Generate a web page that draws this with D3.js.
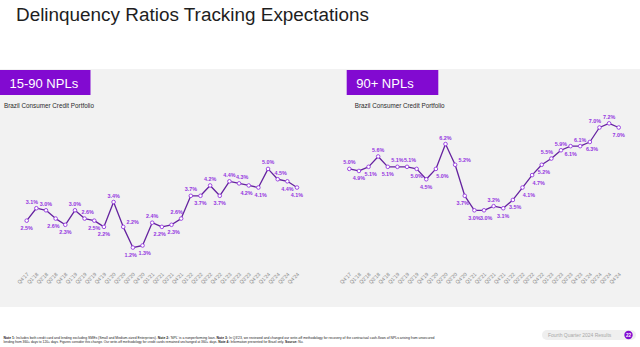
<!DOCTYPE html>
<html>
<head>
<meta charset="utf-8">
<script src="https://cdn.jsdelivr.net/npm/d3@7"></script>
<style>
	body { margin: 0; background: #fff; }
	svg { display: block; font-family: "Liberation Sans", Arial, sans-serif; }
</style>
</head>
<body>
<svg id="slide" width="640" height="347"></svg>
<script>

const QUARTERS = ["Q4'17", "Q1'18", "Q2'18", "Q3'18", "Q4'18", "Q1'19", "Q2'19", "Q3'19", "Q4'19",
	"Q1'20", "Q2'20", "Q3'20", "Q4'20", "Q1'21", "Q2'21", "Q3'21", "Q4'21", "Q1'22", "Q2'22", "Q3'22",
	"Q4'22", "Q1'23", "Q2'23", "Q3'23", "Q4'23", "Q1'24", "Q2'24", "Q3'24", "Q4'24"];

// 15-90 day NPL ratio, %
const NPL_15_90 = [2.5, 3.1, 3.0, 2.6, 2.3, 3.0, 2.6, 2.5, 2.2, 3.4, 2.2, 1.2, 1.3, 2.4, 2.2, 2.3,
	2.6, 3.7, 3.7, 4.2, 3.7, 4.4, 4.3, 4.2, 4.1, 5.0, 4.5, 4.4, 4.1];

// 90+ day NPL ratio, %
const NPL_90 = [5.0, 4.9, 5.1, 5.6, 5.1, 5.1, 5.1, 5.0, 4.5, 5.0, 6.2, 5.2, 3.7, 3.0, 3.0, 3.2,
	3.1, 3.5, 4.1, 4.7, 5.2, 5.5, 5.9, 6.1, 6.1, 6.3, 7.0, 7.2, 7.0];

// where each value label sits relative to its point
const SIDES_15_90 = ['b', 'al', 'a', 'bl', 'b', 'a', 'ar', 'b', 'b', 'a', 'r', 'bl', 'br', 'a', 'bl',
	'br', 'al', 'a', 'b', 'a', 'b', 'a', 'ar', 'bl', 'br', 'a', 'ar', 'b', 'b'];
const SIDES_90 = ['a', 'b', 'br', 'a', 'b', 'a', 'ar', 'b', 'b', 'rb', 'a', 'r', 'bl', 'b', 'br',
	'a', 'b', 'br', 'rb', 'rb', 'br', 'al', 'a', 'b', 'a', 'br', 'al', 'a', 'b'];

const SIDE_OFFSET = {
	a: [0, -6.3], b: [0, 7.6], al: [-4.5, -6.3], ar: [3, -6.5],
	bl: [-2.2, 7.6], br: [2.2, 7.6], r: [9.5, -5], rb: [6.5, 7.5]
};

const PURPLE = '#820ad1';
const LINE = '#65239f';
const LABEL = '#9435e0';

const svg = d3.select('#slide');

// page background and gray card
svg.append('rect').attr('width', 640).attr('height', 347).attr('fill', '#fff');
svg.append('rect').attr('x', 0).attr('y', 69).attr('width', 640).attr('height', 238).attr('fill', '#f2f2f2');

svg.append('text')
	.attr('x', 16).attr('y', 21)
	.attr('font-size', 18)
	.attr('fill', '#1e1e1e')
	.attr('textLength', 353)
	.attr('lengthAdjust', 'spacingAndGlyphs')
	.text('Delinquency Ratios Tracking Expectations');

// shared y scale for both panels
const y = d3.scaleLinear().domain([0, 8]).range([272.4, 106.8]);

function drawPanel(title, boxX, boxW, values, sides, x0, x1) {
	const g = svg.append('g');

	g.append('rect')
		.attr('x', boxX).attr('y', 70)
		.attr('width', boxW).attr('height', 25)
		.attr('fill', PURPLE);
	g.append('text')
		.attr('x', boxX + 9.5).attr('y', 88)
		.attr('font-size', 13)
		.attr('fill', '#fff')
		.text(title);
	g.append('text')
		.attr('x', boxX + 4 + (boxX > 0 ? 4 : 0)).attr('y', 107.5)
		.attr('font-size', 6.3)
		.attr('fill', '#2a2a2a')
		.text('Brazil Consumer Credit Portfolio');

	const x = d3.scalePoint().domain(QUARTERS).range([x0, x1]);
	const data = values.map((v, i) => ({ q: QUARTERS[i], v: v, side: sides[i] }));

	const axis = g.append('g')
		.attr('transform', 'translate(0,274)')
		.call(d3.axisBottom(x).tickSize(0));
	axis.select('.domain').remove();
	axis.selectAll('text')
		.attr('x', 1).attr('y', 0).attr('dy', '0.35em')
		.attr('transform', 'rotate(-45)')
		.attr('text-anchor', 'end')
		.attr('font-size', 5.2)
		.attr('font-family', '"Liberation Sans", Arial, sans-serif')
		.attr('fill', '#8a8a8a');

	g.append('path')
		.datum(data)
		.attr('fill', 'none')
		.attr('stroke', LINE)
		.attr('stroke-width', 1.3)
		.attr('stroke-linejoin', 'round')
		.attr('d', d3.line().x(d => x(d.q)).y(d => y(d.v)));

	g.selectAll('circle')
		.data(data)
		.enter().append('circle')
		.attr('cx', d => x(d.q))
		.attr('cy', d => y(d.v))
		.attr('r', 1.8)
		.attr('fill', '#fff')
		.attr('stroke', LABEL)
		.attr('stroke-width', 0.9);

	g.selectAll('text.val')
		.data(data)
		.enter().append('text')
		.classed('val', true)
		.attr('x', d => x(d.q) + SIDE_OFFSET[d.side][0])
		.attr('y', d => y(d.v) + SIDE_OFFSET[d.side][1])
		.attr('dy', '0.35em')
		.attr('text-anchor', 'middle')
		.attr('font-size', 5.4)
		.attr('font-weight', 'bold')
		.attr('fill', LABEL)
		.text(d => d3.format('.1f')(d.v) + '%');
}

drawPanel('15-90 NPLs', 0, 90.5, NPL_15_90, SIDES_15_90, 26.7, 297);
drawPanel('90+ NPLs', 346.7, 91.6, NPL_90, SIDES_90, 349.3, 618.7);

// footnotes
const notes = [
	[['Note 1: ', true], ['Includes both credit card and lending excluding SMEs (Small and Medium-sized Enterprises). ', false],
		['Note 2: ', true], ["\u2018NPL\u2019 is a nonperforming loan. ", false], ['Note 3: ', true],
		["In Q3'23, we reviewed and changed our write-off methodology for recovery of the contractual cash-flows of NPLs arising from unsecured", false]],
	[['lending from 360+ days to 120+ days. Figures consider this change. Our write-off methodology for credit cards remained unchanged at 360+ days. ', false],
		['Note 4: ', true], ['Information presented for Brazil only. ', false], ['Source: ', true], ['Nu.', false]]
];
const noteWidths = [431, 300];
notes.forEach((line, i) => {
	const t = svg.append('text')
		.attr('x', 3.5).attr('y', 338.5 + i * 4)
		.attr('font-size', 3.2)
		.attr('fill', '#222')
		.attr('textLength', noteWidths[i])
		.attr('lengthAdjust', 'spacingAndGlyphs');
	line.forEach(part => {
		t.append('tspan').attr('font-weight', part[1] ? 'bold' : 'normal').text(part[0]);
	});
});

// footer pill
svg.append('rect')
	.attr('x', 542).attr('y', 330).attr('width', 94).attr('height', 10).attr('rx', 5)
	.attr('fill', '#efefef');
svg.append('text')
	.attr('x', 548).attr('y', 336.8)
	.attr('font-size', 5)
	.attr('fill', '#a8a8a8')
	.text('Fourth Quarter 2024 Results');
svg.append('circle').attr('cx', 628.5).attr('cy', 335).attr('r', 4.2).attr('fill', PURPLE);
svg.append('text')
	.attr('x', 628.5).attr('y', 336.8)
	.attr('text-anchor', 'middle')
	.attr('font-size', 4.6)
	.attr('font-weight', 'bold')
	.attr('fill', '#fff')
	.text('22');

</script>
</body>
</html>
